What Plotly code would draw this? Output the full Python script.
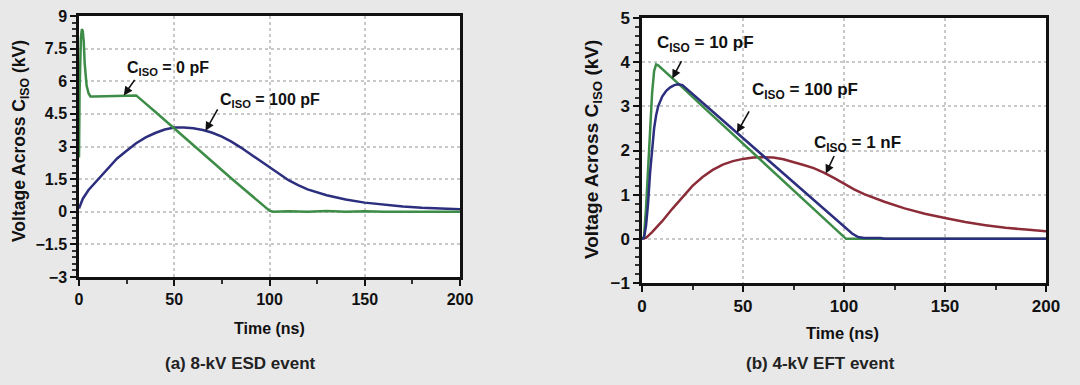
import plotly.graph_objects as go

# ---------------- data: (a) 8-kV ESD event ----------------
esd_t_0pf = [0, 0.3, 1.0, 1.5, 2.0, 2.5, 3.0, 4.0, 5.0, 6.0, 8.0, 15, 25, 30,
             40, 50, 60, 70, 80, 90, 100, 102, 110, 120, 130, 140, 150, 160,
             170, 180, 190, 200]
esd_v_0pf = [2.5, 5.5, 8.0, 8.4, 8.3, 7.8, 6.8, 5.8, 5.45, 5.3, 5.3, 5.32, 5.35, 5.35,
             4.6, 3.82, 3.06, 2.3, 1.53, 0.78, 0.05, 0.0, 0.02, 0.0, 0.03, 0.0, 0.02, 0.0,
             0.0, 0.0, 0.0, 0.0]

esd_t_100pf = [0, 2, 5, 10, 15, 20, 25, 30, 35, 40, 45, 50, 55, 60, 65, 70, 75,
               80, 85, 90, 95, 100, 105, 110, 115, 120, 130, 140, 150, 160, 170,
               180, 190, 200]
esd_v_100pf = [0.15, 0.6, 1.0, 1.5, 2.0, 2.45, 2.8, 3.15, 3.42, 3.62, 3.78, 3.87,
               3.87, 3.84, 3.76, 3.63, 3.45, 3.22, 2.95, 2.65, 2.35, 2.03, 1.72,
               1.45, 1.22, 1.03, 0.76, 0.56, 0.42, 0.32, 0.24, 0.18, 0.14, 0.12]

# ---------------- data: (b) 4-kV EFT event ----------------
eft_t_10pf = [0, 1, 2, 3, 4, 5, 6, 7, 8, 10, 20, 30, 40, 50, 60, 70, 80, 90,
              100, 101, 120, 200]
eft_v_10pf = [0, 0.05, 0.7, 1.6, 2.5, 3.3, 3.8, 3.95, 3.93, 3.85, 3.43, 3.0,
              2.58, 2.15, 1.73, 1.31, 0.89, 0.46, 0.04, 0.0, 0.0, 0.0]

eft_t_100pf = [0, 1, 2, 3, 4, 5, 6, 7, 8, 10, 12, 14, 16, 18, 20, 30, 40, 50,
               60, 70, 80, 90, 100, 104, 107, 110, 118, 120, 200]
eft_v_100pf = [0, 0.02, 0.3, 0.8, 1.5, 2.1, 2.5, 2.8, 3.0, 3.22, 3.35, 3.43,
               3.48, 3.5, 3.48, 3.08, 2.68, 2.28, 1.88, 1.48, 1.08, 0.68, 0.28,
               0.12, 0.04, 0.02, 0.02, 0.0, 0.0]

eft_t_1nf = [0, 2, 5, 10, 15, 20, 25, 30, 35, 40, 45, 50, 55, 60, 65, 70, 75,
             80, 85, 90, 95, 100, 105, 110, 115, 120, 130, 140, 150, 160, 170,
             180, 190, 200]
eft_v_1nf = [0, 0.02, 0.15, 0.4, 0.68, 0.95, 1.2, 1.4, 1.56, 1.68, 1.76, 1.81,
             1.84, 1.85, 1.84, 1.8, 1.74, 1.67, 1.6, 1.5, 1.38, 1.25, 1.12, 1.01,
             0.92, 0.84, 0.69, 0.57, 0.47, 0.38, 0.31, 0.25, 0.21, 0.17]

esd_yticks = [-3, -1.5, 0, 1.5, 3, 4.5, 6, 7.5, 9]
esd_ylabels = ["\u22123", "\u22121.5", "0", "1.5", "3", "4.5", "6", "7.5", "9"]
eft_yticks = [-1, 0, 1, 2, 3, 4, 5]
eft_ylabels = ["\u22121", "0", "1", "2", "3", "4", "5"]
x_ticks = [0, 50, 100, 150, 200]
x_labels = ["0", "50", "100", "150", "200"]

GREEN = "#3d8c48"
BLUE = "#2c2e7e"
RED = "#8c2c38"
BG = "#e8e8e9"
FONT = "Liberation Sans"

W, H = 1080, 385


def px(x):
    return x / W


def py(y):
    return 1 - y / H


def bold(labels):
    return ["<b>%s</b>" % s for s in labels]


fig = go.Figure()
fig.add_trace(go.Scatter(x=esd_t_100pf, y=esd_v_100pf, mode="lines",
                         line=dict(color=BLUE, width=2.5), xaxis="x", yaxis="y"))
fig.add_trace(go.Scatter(x=esd_t_0pf, y=esd_v_0pf, mode="lines",
                         line=dict(color=GREEN, width=2.5), xaxis="x", yaxis="y"))
fig.add_trace(go.Scatter(x=eft_t_1nf, y=eft_v_1nf, mode="lines",
                         line=dict(color=RED, width=2.5), xaxis="x2", yaxis="y2"))
fig.add_trace(go.Scatter(x=eft_t_10pf, y=eft_v_10pf, mode="lines",
                         line=dict(color=GREEN, width=2.5), xaxis="x2", yaxis="y2"))
fig.add_trace(go.Scatter(x=eft_t_100pf, y=eft_v_100pf, mode="lines",
                         line=dict(color=BLUE, width=2.5), xaxis="x2", yaxis="y2"))


def xaxis_cfg(domain, anchor, fsize):
    return dict(domain=domain, anchor=anchor, range=[0, 200], tickvals=x_ticks,
                ticktext=bold(x_labels),
                ticks="outside", ticklen=6, tickwidth=2, tickcolor="#111",
                showline=True, linecolor="#111", linewidth=2.5, mirror=True,
                showgrid=True, gridcolor="#c9c9c9", griddash="dot", gridwidth=1.5,
                zeroline=False, tickfont=dict(family=FONT, size=fsize, color="#111"),
                automargin=False,
                minor=dict(ticks="outside", dtick=25, ticklen=4, tickcolor="#333",
                           showgrid=False))


def yaxis_cfg(domain, anchor, rng, vals, labels, minor_dtick, fsize):
    return dict(domain=domain, anchor=anchor, range=rng, tickvals=vals,
                ticktext=bold(labels),
                ticks="outside", ticklen=6, tickwidth=2, tickcolor="#111",
                showline=True, linecolor="#111", linewidth=2.5, mirror=True,
                showgrid=True, gridcolor="#c9c9c9", griddash="dot", gridwidth=1.5,
                zeroline=False, tickfont=dict(family=FONT, size=fsize, color="#111"),
                automargin=False,
                minor=dict(ticks="outside", dtick=minor_dtick, tick0=0, ticklen=4,
                           tickcolor="#333", showgrid=False))


fig.update_layout(
    width=W, height=H, margin=dict(l=0, r=0, t=0, b=0, autoexpand=False),
    paper_bgcolor=BG, plot_bgcolor="white", showlegend=False,
    font=dict(family=FONT, size=16, color="#111"),
    xaxis=xaxis_cfg([px(79), px(460)], "y", 16),
    yaxis=yaxis_cfg([py(277), py(16)], "x", [-3, 9], esd_yticks, esd_ylabels, 0.3, 16),
    xaxis2=xaxis_cfg([px(642), px(1046)], "y2", 17),
    yaxis2=yaxis_cfg([py(283), py(18)], "x2", [-1, 5], eft_yticks, eft_ylabels, 0.2, 17),
)

annots = []


def text(x, y, s, size=16, family=FONT, color="#111", angle=0):
    annots.append(dict(xref="paper", yref="paper", x=px(x), y=py(y),
                       text="<b>%s</b>" % s,
                       showarrow=False, xanchor="center", yanchor="middle",
                       font=dict(family=family, size=size, color=color),
                       textangle=angle))


def arrow(xref, yref, x, y, ax, ay):
    annots.append(dict(xref=xref, yref=yref, x=x, y=y, ax=ax, ay=ay, text="",
                       showarrow=True, arrowhead=2, arrowsize=1.1, arrowwidth=1.6,
                       arrowcolor="#111"))


# axis titles
text(269, 328, "Time (ns)")
text(842, 333, "Time (ns)", size=16.5)
text(20, 141, "Voltage Across C<sub>ISO</sub> (kV)", size=17.5, angle=-90)
text(593, 150, "Voltage Across C<sub>ISO</sub> (kV)", size=19, angle=-90)

# captions
text(240, 363, "(a) 8-kV ESD event", size=17, color="#222")
text(820, 363, "(b) 4-kV EFT event", size=17, color="#222")

# curve labels
text(168, 68, "C<sub>ISO</sub> = 0 pF")
text(270, 101, "C<sub>ISO</sub> = 100 pF")
text(705, 44, "C<sub>ISO</sub> = 10 pF", size=17)
text(805, 91, "C<sub>ISO</sub> = 100 pF", size=17)
text(857, 144, "C<sub>ISO</sub> = 1 nF", size=17)

# arrows
arrow("x", "y", 23.5, 5.35, 12, -17)
arrow("x", "y", 66.4, 3.72, 13, -23)
arrow("x2", "y2", 15, 3.63, 10, -19)
arrow("x2", "y2", 47, 2.4, 13, -23)
arrow("x2", "y2", 91, 1.48, 9, -19)

fig.update_layout(annotations=annots)
fig.write_html(
    "out.html",
    config={"displayModeBar": False},
    post_script="document.body.style.margin='0';document.body.style.background='%s';" % BG,
)
